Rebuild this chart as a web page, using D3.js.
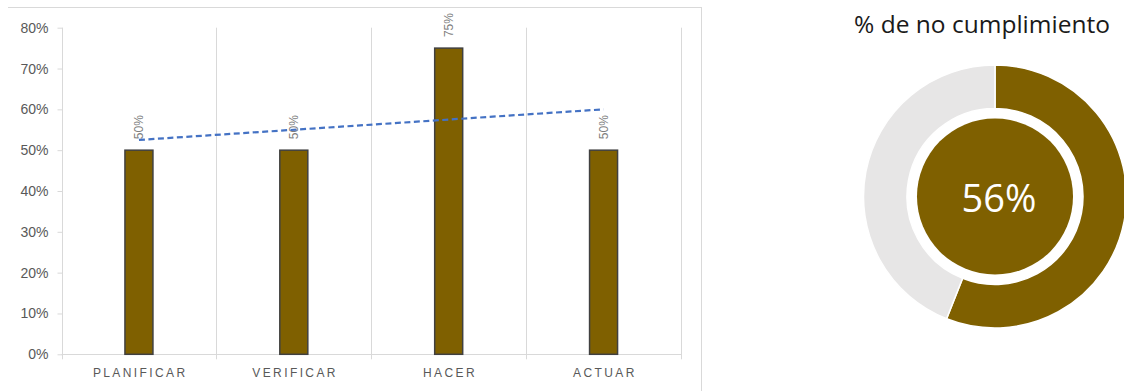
<!DOCTYPE html>
<html>
<head>
<meta charset="utf-8">
<script src="https://cdn.jsdelivr.net/npm/d3@7"></script>
<style>
  html, body { margin: 0; padding: 0; background: #fff; }
  svg { display: block; }
</style>
</head>
<body>
<svg id="chart" width="1124" height="391"></svg>
<script>
// ---- data ----
const categories = ["PLANIFICAR", "VERIFICAR", "HACER", "ACTUAR"];
const values = [0.50, 0.50, 0.75, 0.50];
const yTickValues = [0, 0.1, 0.2, 0.3, 0.4, 0.5, 0.6, 0.7, 0.8];
const donutTitle = "% de no cumplimiento";
const donutValues = [0.56, 0.44];
const donutLabel = "56%";

// ---- styles ----
const BAR_COLOR = "#7F6000";
const GRID_COLOR = "#d9d9d9";
const TEXT_GREY = "#595959";
const LABEL_GREY = "#7f7f7f";
const TREND_COLOR = "#4472C4";
const DONUT_REST = "#e7e6e6";
const FONT = "'Liberation Sans', Arial, sans-serif";

const svg = d3.select("#chart");

// chart frame (top and right border)
svg.append("line").attr("x1", 8).attr("x2", 702).attr("y1", 7.5).attr("y2", 7.5)
  .attr("stroke", GRID_COLOR).attr("stroke-width", 1);
svg.append("line").attr("x1", 701.5).attr("x2", 701.5).attr("y1", 7).attr("y2", 391)
  .attr("stroke", GRID_COLOR).attr("stroke-width", 1);

// ---- bar chart ----
const plot = { left: 61.5, right: 681, top: 27.7, bottom: 354.3 };
const x = d3.scaleBand().domain(categories).range([plot.left, plot.right]).padding(0);
const y = d3.scaleLinear().domain([0, 0.8]).range([plot.bottom, plot.top]);
const barW = 28;

const g = svg.append("g");

// vertical category separators
const bounds = categories.map(c => x(c)).concat([plot.right]);
g.selectAll("line.sep").data(bounds).join("line")
  .attr("class", "sep")
  .attr("x1", d => Math.round(d) + 0.5).attr("x2", d => Math.round(d) + 0.5)
  .attr("y1", plot.top).attr("y2", plot.bottom + 5)
  .attr("stroke", GRID_COLOR).attr("stroke-width", 1);

// x axis baseline
g.append("line").attr("x1", plot.left).attr("x2", plot.right + 0.5)
  .attr("y1", Math.round(plot.bottom) + 0.5).attr("y2", Math.round(plot.bottom) + 0.5)
  .attr("stroke", GRID_COLOR).attr("stroke-width", 1);

// y axis
const yAxis = d3.axisLeft(y).tickValues(yTickValues).tickFormat(d3.format(".0%")).tickSize(5).tickPadding(9);
const yg = g.append("g").attr("transform", `translate(${Math.round(plot.left) + 0.5},0)`).call(yAxis);
yg.attr("font-size", null).attr("font-family", null);
yg.select(".domain").remove();
yg.selectAll(".tick line").attr("stroke", GRID_COLOR);
yg.selectAll(".tick text").attr("fill", TEXT_GREY).style("font-family", FONT).style("font-size", "14px");

// x labels
g.selectAll("text.xl").data(categories).join("text")
  .attr("class", "xl")
  .attr("x", d => x(d) + x.bandwidth() / 2 + 1.3)
  .attr("y", 376.5)
  .attr("text-anchor", "middle")
  .attr("fill", TEXT_GREY)
  .style("font-family", FONT).style("font-size", "12px").style("letter-spacing", "2.4px")
  .text(d => d);

// bars
g.selectAll("rect.bar").data(values).join("rect")
  .attr("class", "bar")
  .attr("x", (d, i) => x(categories[i]) + x.bandwidth() / 2 - barW / 2)
  .attr("y", d => y(d))
  .attr("width", barW)
  .attr("height", d => y(0) - y(d))
  .attr("fill", BAR_COLOR)
  .attr("stroke", "#404040").attr("stroke-width", 1.5);

// data labels (rotated)
g.selectAll("text.dl").data(values).join("text")
  .attr("class", "dl")
  .attr("transform", (d, i) => `translate(${x(categories[i]) + x.bandwidth() / 2},${y(d) - 11}) rotate(-90)`)
  .attr("dy", "0.35em")
  .attr("text-anchor", "start")
  .attr("fill", LABEL_GREY)
  .style("font-family", FONT).style("font-size", "12px")
  .text(d => d3.format(".0%")(d));

// linear trend line (least squares over category index)
const n = values.length;
const xs = d3.range(1, n + 1);
const mx = d3.mean(xs), my = d3.mean(values);
const slope = d3.sum(xs, (xi, i) => (xi - mx) * (values[i] - my)) / d3.sum(xs, xi => (xi - mx) ** 2);
const icpt = my - slope * mx;
const trend = [
  { c: categories[0], v: icpt + slope * 1 },
  { c: categories[n - 1], v: icpt + slope * n }
];
g.append("path")
  .datum(trend)
  .attr("d", d3.line().x(d => x(d.c) + x.bandwidth() / 2).y(d => y(d.v)))
  .attr("fill", "none")
  .attr("stroke", TREND_COLOR).attr("stroke-width", 2.2)
  .attr("stroke-dasharray", "6,3.5");

// ---- donut ----
const dc = { x: 995, y: 196.5 };
const rOuter = 131.5, rInner = 88, rCore = 78;
const dg = svg.append("g").attr("transform", `translate(${dc.x},${dc.y})`);
const pie = d3.pie().sort(null).value(d => d);
const arc = d3.arc().innerRadius(rInner).outerRadius(rOuter);
dg.selectAll("path.seg").data(pie(donutValues)).join("path")
  .attr("class", "seg")
  .attr("d", arc)
  .attr("fill", (d, i) => i === 0 ? BAR_COLOR : DONUT_REST)
  .attr("stroke", "#fff").attr("stroke-width", 1.5);
dg.append("path")
  .attr("d", d3.arc().innerRadius(0).outerRadius(rCore)({ startAngle: 0, endAngle: 2 * Math.PI }))
  .attr("fill", BAR_COLOR);
dg.append("text")
  .attr("x", 4).attr("y", 15)
  .attr("text-anchor", "middle")
  .attr("fill", "#fff")
  .style("font-family", "'Open Sans', sans-serif").style("font-size", "38px")
  .text(donutLabel);

svg.append("text")
  .attr("x", 982).attr("y", 33)
  .attr("text-anchor", "middle")
  .attr("fill", "#1a1a1a")
  .style("font-family", "'Open Sans', sans-serif").style("font-size", "24.5px")
  .text(donutTitle);
</script>
</body>
</html>
